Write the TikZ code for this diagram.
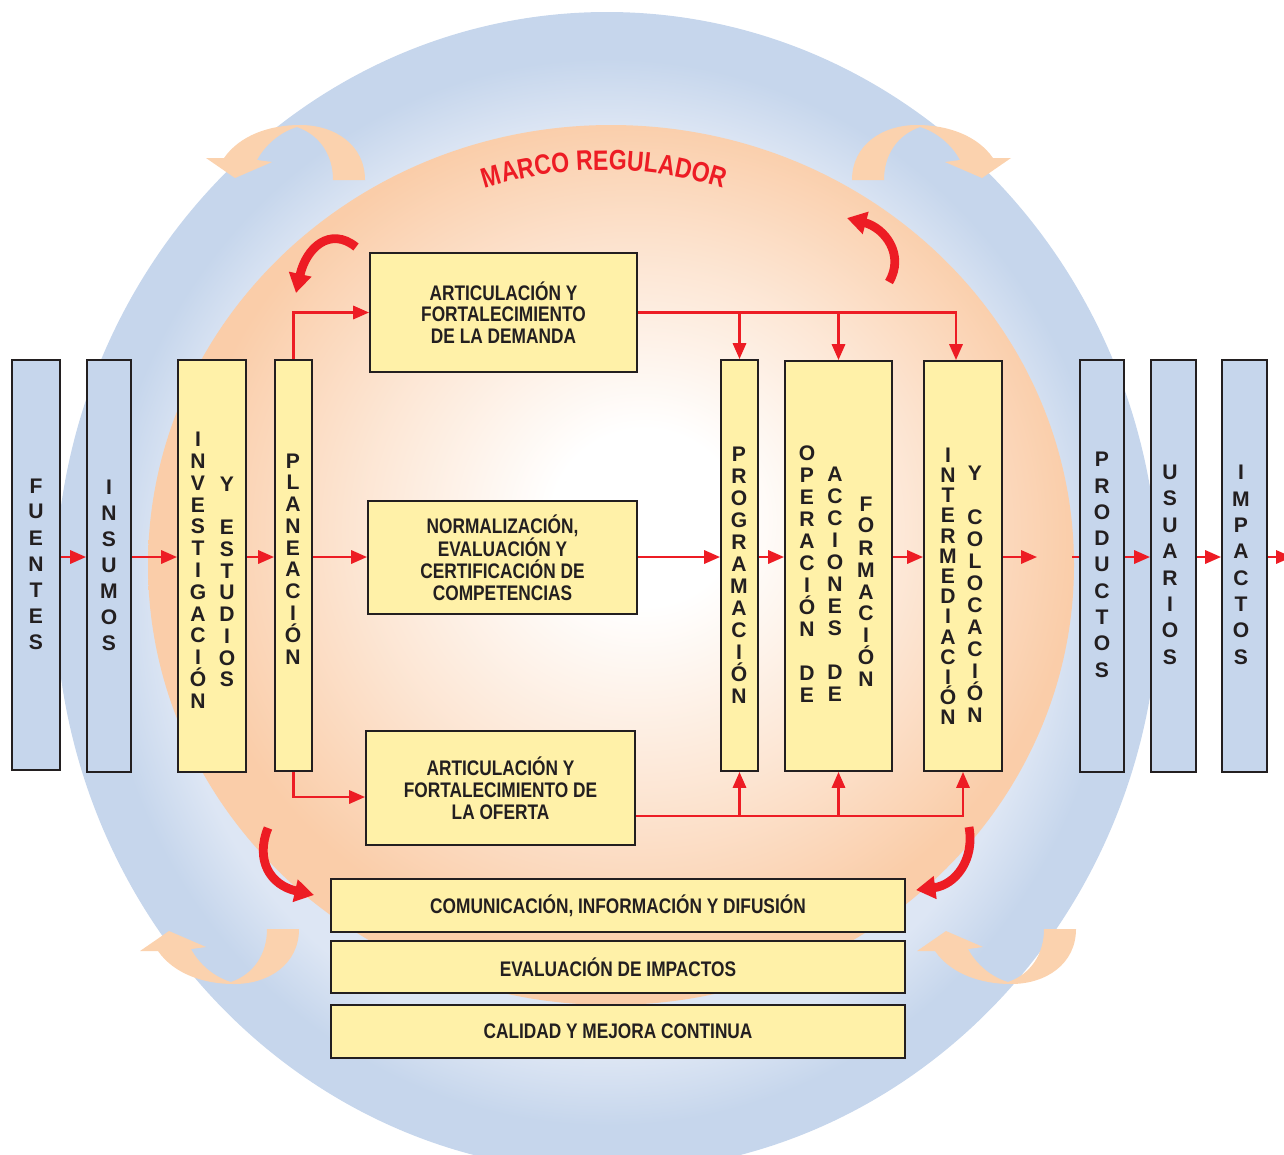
\documentclass[tikz,border=0pt]{standalone}
\usepackage{fontspec}
\setmainfont{Liberation Sans}
\newfontfamily\condfont{Liberation Sans}[FakeStretch=0.82]
\usetikzlibrary{arrows.meta,calc,decorations.text}

\definecolor{cajaAmarilla}{HTML}{FFF1A8}
\definecolor{cajaAzul}{HTML}{C6D6EC}
\definecolor{azulClaro}{HTML}{DDE6F4}
\definecolor{rojo}{HTML}{ED1C24}
\definecolor{durazno}{HTML}{FBD2AE}
\definecolor{naranja}{HTML}{FACDA9}
\definecolor{borde}{HTML}{231F20}

\pgfdeclareradialshading{anillo}{\pgfpoint{0bp}{0bp}}{color(0bp)=(azulClaro); color(20bp)=(azulClaro); color(23bp)=(cajaAzul); color(50bp)=(cajaAzul)}
\pgfdeclareradialshading{centro}{\pgfpoint{2bp}{3bp}}{color(0bp)=(white); color(5bp)=(white); color(15bp)=(naranja!50); color(24bp)=(naranja); color(50bp)=(naranja)}

% letras una debajo de otra
\makeatletter
\newcommand{\vpalabra}[2]{\vbox{\offinterlineskip\@tfor\letra:=#2\do{\vbox to #1{\vss\hbox to 1.3em{\hss\letra\hss}\vskip 0.5\dimexpr#1-0.716em\relax}}}}
\makeatother

\begin{document}
\begin{tikzpicture}[x=0.02cm, y=-0.02cm,
  caja/.style={draw=borde, line width=1.1pt, inner sep=0pt},
  azul/.style={caja, fill=cajaAzul},
  amarilla/.style={caja, fill=cajaAmarilla},
  flecha/.style={rojo, line width=1.4pt, -{Triangle[length=9pt,width=7.5pt]}},
  linea/.style={rojo, line width=1.4pt},
  curva/.style={rojo, line width=5pt, -{Triangle[length=11pt,width=12.5pt]}},
  vertical/.style={font=\bfseries\fontsize{12}{12}\selectfont, inner sep=0pt, text=borde},
  etiqueta/.style={font=\condfont\bfseries\fontsize{12}{12.4}\selectfont, align=center, text=borde}]
  \def\pix{0.02cm}
  \useasboundingbox (0,0) rectangle (1284,1154);

  % fondo
  \shade[shading=anillo] (607,592) ellipse [x radius=552, y radius=580];
  \shade[shading=centro] (611,565) ellipse [x radius=463, y radius=440];

  % flechas claras del anillo
  \foreach \ox/\oy/\sx/\sy in {300/180/1/1, 917/180/-1/1, 234/929/1/-1, 1011/929/1/-1} {
      \fill[durazno, shift={(\ox,\oy)}, xscale=\sx, yscale=\sy]
        (65,0) .. controls (65,-35) and (35,-55) .. (0,-55)
        .. controls (-30,-55) and (-60,-45) .. (-76,-22)
        -- (-94,-22) -- (-65,-2) -- (-28,-18) -- (-43,-20)
        .. controls (-35,-35) and (-20,-48) .. (-3,-53)
        .. controls (20,-45) and (33,-25) .. (33,0) -- cycle;
  }

  % flechas rojas curvas
  \draw[curva] (356,247) .. controls (330,226) and (306,248) .. (296,293);
  \draw[curva] (889,282) .. controls (905,255) and (885,228) .. (847,218);
  \draw[curva] (268,828) .. controls (255,860) and (270,885) .. (314,895);
  \draw[curva] (969,827) .. controls (975,860) and (955,885) .. (916,890);

  \path[decorate, decoration={text along path, text align=center,
      text={|\condfont\bfseries\fontsize{16}{16}\selectfont\color{rojo}|MARCO REGULADOR}}]
    ($(604,565)+(-112:395)$) arc [start angle=-112, end angle=-68, radius=395];

  % cajas azules
  \node[azul, minimum width=48*\pix, minimum height=410*\pix] (fuentes) at (36,565) {};
  \node[azul, minimum width=44*\pix, minimum height=412*\pix] (insumos) at (109,566) {};
  \node[azul, minimum width=44*\pix, minimum height=412*\pix] (productos) at (1102,566) {};
  \node[azul, minimum width=45*\pix, minimum height=412*\pix] (usuarios) at (1173.5,566) {};
  \node[azul, minimum width=45*\pix, minimum height=412*\pix] (impactos) at (1244.5,566) {};

  % cajas amarillas
  \node[amarilla, minimum width=68*\pix, minimum height=412*\pix] (investigacion) at (212,566) {};
  \node[amarilla, minimum width=37*\pix, minimum height=411*\pix] (planeacion) at (293.5,565.5) {};
  \node[amarilla, minimum width=37*\pix, minimum height=411*\pix] (programacion) at (739.5,565.5) {};
  \node[amarilla, minimum width=107*\pix, minimum height=410*\pix] (operacion) at (838.5,566) {};
  \node[amarilla, minimum width=78*\pix, minimum height=410*\pix] (intermediacion) at (963,566) {};

  \node[amarilla, etiqueta, minimum width=267*\pix, minimum height=119*\pix] (demanda) at (503.5,312.5)
    {ARTICULACIÓN Y\\FORTALECIMIENTO\\DE LA DEMANDA};
  \node[amarilla, etiqueta, minimum width=269*\pix, minimum height=113*\pix] (normalizacion) at (502.5,557.5)
    {NORMALIZACIÓN,\\EVALUACIÓN Y\\CERTIFICACIÓN DE\\COMPETENCIAS};
  \node[amarilla, etiqueta, minimum width=269*\pix, minimum height=114*\pix] (oferta) at (500.5,788)
    {ARTICULACIÓN Y\\FORTALECIMIENTO DE\\LA OFERTA};
  \node[amarilla, etiqueta, minimum width=574*\pix, minimum height=53*\pix] (comunicacion) at (618,905.5)
    {COMUNICACIÓN, INFORMACIÓN Y DIFUSIÓN};
  \node[amarilla, etiqueta, minimum width=574*\pix, minimum height=52*\pix] (evaluacion) at (618,967)
    {EVALUACIÓN DE IMPACTOS};
  \node[amarilla, etiqueta, minimum width=574*\pix, minimum height=53*\pix] (calidad) at (618,1031.5)
    {CALIDAD Y MEJORA CONTINUA};

  % textos verticales
  \node[vertical] (t-fuentes) at (36,564) {\vpalabra{14.9pt}{FUENTES}};
  \node[vertical] (t-insumos) at (109,565) {\vpalabra{14.8pt}{INSUMOS}};
  \node[vertical] (t-investigacion) at (198,570) {\vpalabra{12.4pt}{INVESTIGACIÓN}};
  \node[vertical] (t-estudios) at (227,581.5) {\vpalabra{12.4pt}{Y{}ESTUDIOS}};
  \node[vertical] (t-planeacion) at (293,558.5) {\vpalabra{12.4pt}{PLANEACIÓN}};
  \node[vertical] (t-programacion) at (739,575) {\vpalabra{12.5pt}{PROGRAMACIÓN}};
  \node[vertical] (t-operacion) at (807,574) {\vpalabra{12.5pt}{OPERACIÓN{}DE}};
  \node[vertical] (t-acciones) at (835,584) {\vpalabra{12.5pt}{ACCIONES{}DE}};
  \node[vertical] (t-formacion) at (866,591.5) {\vpalabra{12.5pt}{FORMACIÓN}};
  \node[vertical] (t-intermediacion) at (948,586) {\vpalabra{11.5pt}{INTERMEDIACIÓN}};
  \node[vertical] (t-colocacion) at (975,594) {\vpalabra{12.5pt}{Y{}COLOCACIÓN}};
  \node[vertical] (t-productos) at (1102,564.5) {\vpalabra{15pt}{PRODUCTOS}};
  \node[vertical] (t-usuarios) at (1170,564.5) {\vpalabra{15pt}{USUARIOS}};
  \node[vertical] (t-impactos) at (1241,564.5) {\vpalabra{15pt}{IMPACTOS}};

  % conectores
  \coordinate (eje) at (0,557);
  \coordinate (salida) at (1037,557);
  \coordinate (entrada) at (1072,557);
  \coordinate (fin) at (1292,557);
  \foreach \a/\b in {fuentes/insumos, insumos/investigacion, investigacion/planeacion,
      planeacion/normalizacion, normalizacion/programacion, programacion/operacion,
      operacion/intermediacion, productos/usuarios, usuarios/impactos} {
      \draw[flecha] (\a.east |- eje) -- (\b.west |- eje);
  }
  \draw[flecha] (intermediacion.east |- eje) -- (salida);
  \draw[linea] (entrada) -- (productos.west |- eje);
  \draw[flecha] (impactos.east |- eje) -- (fin);

  \draw[flecha] (planeacion.north) |- (demanda.west);
  \draw[flecha] (planeacion.south) |- ($(oferta.west)+(0,9)$);

  \coordinate (bajada) at ($(intermediacion.north)+(-7,0)$);
  \draw[flecha] (demanda.east) -| (bajada);
  \coordinate (subida) at ($(oferta.east)+(0,28)$);
  \draw[flecha] (subida) -| (intermediacion.south);
  \foreach \n in {programacion, operacion} {
      \draw[flecha] (demanda.east -| \n.north) -- (\n.north); % hacia abajo
      \draw[flecha] (subida -| \n.south) -- (\n.south); % hacia arriba
  }
\end{tikzpicture}
\end{document}
